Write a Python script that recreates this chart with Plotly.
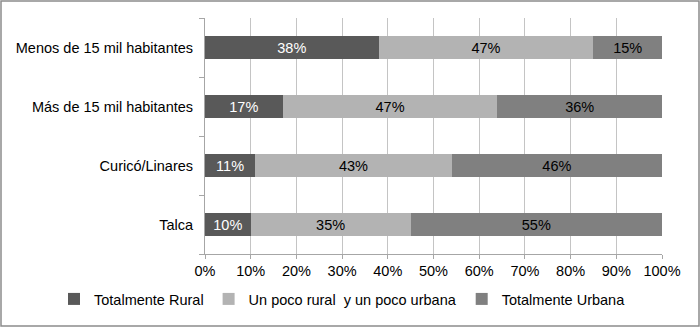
import plotly.graph_objects as go

categories = ["Menos de 15 mil habitantes", "Más de 15 mil habitantes", "Curicó/Linares", "Talca"]
series_names = ["Totalmente Rural", "Un poco rural\u00a0 y un poco urbana", "Totalmente Urbana"]
rural = [38, 17, 11, 10]
poco = [47, 47, 43, 35]
urbana = [15, 36, 46, 55]
tick_vals = [0, 10, 20, 30, 40, 50, 60, 70, 80, 90, 100]
tick_text = [f"{v}%" for v in tick_vals]

colors = ["#595959", "#b3b3b3", "#808080"]
text_colors = ["#ffffff", "#000000", "#000000"]
FONT = "Liberation Sans, Arial, sans-serif"
FS = 14.5

W, H = 700, 327
ML, MR, MT, MB = 205, 38, 18, 73
PW, PH = W - ML - MR, H - MT - MB

fig = go.Figure()
for name, vals, c, tc in zip(series_names, [rural, poco, urbana], colors, text_colors):
    fig.add_trace(go.Bar(
        y=categories, x=vals, name=name, orientation="h",
        marker=dict(color=c, line=dict(width=0)),
        text=[f"{v}%" for v in vals], textposition="inside",
        insidetextanchor="middle", constraintext="none",
        textfont=dict(color=tc, size=FS, family=FONT),
        hoverinfo="skip",
    ))

def px_x(p):
    return (p - ML) / PW

def px_y(p):
    return (H - p - MB) / PH

fig.update_layout(
    width=W, height=H,
    barmode="stack", bargap=0.6,
    margin=dict(l=ML, r=MR, t=MT, b=MB),
    paper_bgcolor="white", plot_bgcolor="white",
    font=dict(family=FONT, size=FS, color="#000000"),
    uniformtext=dict(mode="show", minsize=FS),
    xaxis=dict(range=[0, 100], tickvals=tick_vals, ticktext=tick_text,
               showgrid=True, gridcolor="#c4c4c4", gridwidth=1,
               showline=True, linecolor="#a6a6a6", linewidth=1,
               ticks="outside", ticklen=4, tickcolor="#a6a6a6",
               zeroline=False, fixedrange=True, automargin=False),
    yaxis=dict(categoryorder="array", categoryarray=categories[::-1],
               showline=True, linecolor="#a6a6a6", linewidth=1,
               ticks="outside", ticklen=5, tickcolor="#a6a6a6", tickson="boundaries",
               ticklabelstandoff=8,
               showgrid=False, fixedrange=True, automargin=False),
    legend=dict(orientation="h", x=px_x(54), xanchor="left", y=px_y(283), yanchor="top",
                itemwidth=30, font=dict(size=FS, family=FONT), traceorder="normal",
                bgcolor="rgba(0,0,0,0)"),
    shapes=[dict(type="rect", xref="paper", yref="paper",
                 x0=px_x(1), x1=px_x(699), y0=px_y(326), y1=px_y(1),
                 line=dict(color="#8c8c8c", width=1.5), layer="below")],
)

fig.write_html("out.html", config={"displayModeBar": False},
               post_script="document.body.style.margin='0';document.body.style.overflow='hidden';")
